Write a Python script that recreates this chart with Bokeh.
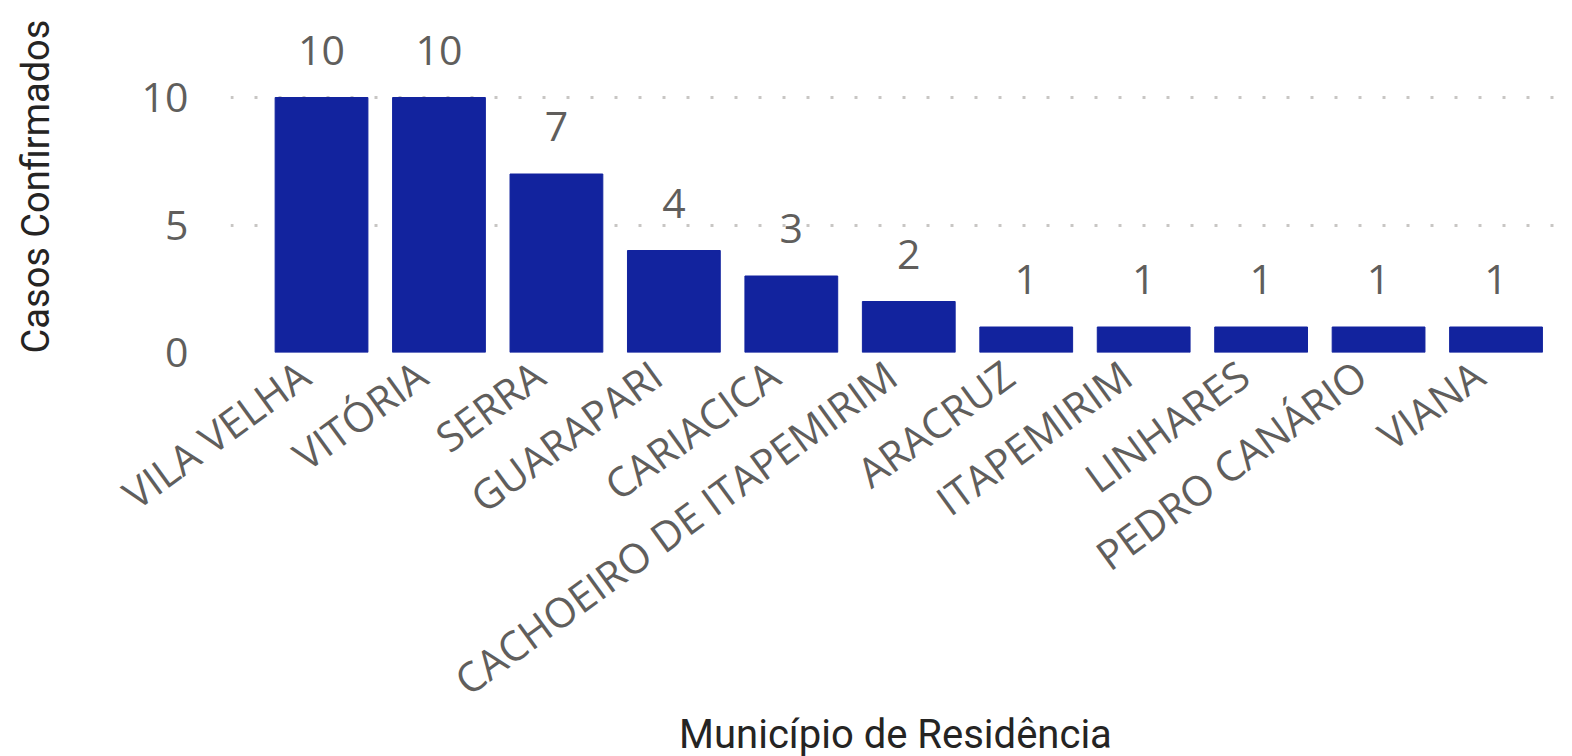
from bokeh.plotting import figure
from bokeh.models import ColumnDataSource, Range1d, FixedTicker, LabelSet, Spacer
from bokeh.layouts import row
from bokeh.core.properties import value
from bokeh.embed import file_html
from bokeh.resources import INLINE

municipios = ["VILA VELHA", "VITÓRIA", "SERRA", "GUARAPARI", "CARIACICA",
              "CACHOEIRO DE ITAPEMIRIM", "ARACRUZ", "ITAPEMIRIM", "LINHARES",
              "PEDRO CANÁRIO", "VIANA"]
casos = [10, 10, 7, 4, 3, 2, 1, 1, 1, 1, 1]
y_ticks = [0, 5, 10]

idx = list(range(len(municipios)))
src = ColumnDataSource(dict(x=idx, y=casos, lab=[str(c) for c in casos]))

TICK_FONT = "Open Sans"
TITLE_FONT = "Roboto"
GRAY = "#605E5C"

p = figure(frame_width=1330, frame_height=332, output_backend="svg",
           toolbar_location=None, x_range=Range1d(-0.775, 10.549),
           y_range=Range1d(0, 13.02), min_border_left=0, min_border_top=20,
           min_border_right=2, min_border_bottom=0)
p.outline_line_color = None
p.background_fill_color = "white"
p.border_fill_color = "white"

p.vbar(x="x", top="y", width=0.79, source=src, color="#12239E")

# value labels above bars
labels = LabelSet(x="x", y="y", text="lab", source=src, y_offset=33,
                  text_align="center", text_baseline="alphabetic",
                  text_font=value(TICK_FONT), text_font_size="41px",
                  text_color=GRAY)
p.add_layout(labels)

# x axis: rotated category labels (anchored slightly left of each bar centre)
shift = 0.15
tick_pos = [round(i - shift, 2) for i in idx]
p.xaxis.ticker = FixedTicker(ticks=tick_pos)
p.xaxis.major_label_overrides = {t: m for t, m in zip(tick_pos, municipios)}
p.xaxis.major_label_orientation = 0.63
p.xaxis.major_label_text_font = TICK_FONT
p.xaxis.major_label_text_font_size = "41px"
p.xaxis.major_label_text_color = GRAY
p.xaxis.major_label_standoff = 11
p.xaxis.axis_line_color = None
p.xaxis.major_tick_line_color = None
p.xaxis.minor_tick_line_color = None
p.xaxis.axis_label = "Município de Residência"
p.xaxis.axis_label_text_font = TITLE_FONT
p.xaxis.axis_label_text_font_style = "normal"
p.xaxis.axis_label_text_font_size = "40px"
p.xaxis.axis_label_text_color = "#252423"
p.xaxis.axis_label_standoff = -22

# y axis
p.yaxis.ticker = FixedTicker(ticks=y_ticks)
p.yaxis.major_label_text_font = TICK_FONT
p.yaxis.major_label_text_font_size = "41px"
p.yaxis.major_label_text_color = GRAY
p.yaxis.major_label_standoff = 36
p.yaxis.axis_line_color = None
p.yaxis.major_tick_line_color = None
p.yaxis.minor_tick_line_color = None
p.yaxis.axis_label = "Casos Confirmados"
p.yaxis.axis_label_text_font = TITLE_FONT
p.yaxis.axis_label_text_font_style = "normal"
p.yaxis.axis_label_text_font_size = "38px"
p.yaxis.axis_label_text_color = "#252423"
p.yaxis.axis_label_standoff = 81

p.xgrid.grid_line_color = None
p.ygrid.grid_line_color = "#C8C6C4"
p.ygrid.grid_line_width = 3
p.ygrid.grid_line_dash = "3 21"

layout = row(Spacer(width=10, height=10), p)
open("out.html", "w").write(file_html(layout, INLINE))
